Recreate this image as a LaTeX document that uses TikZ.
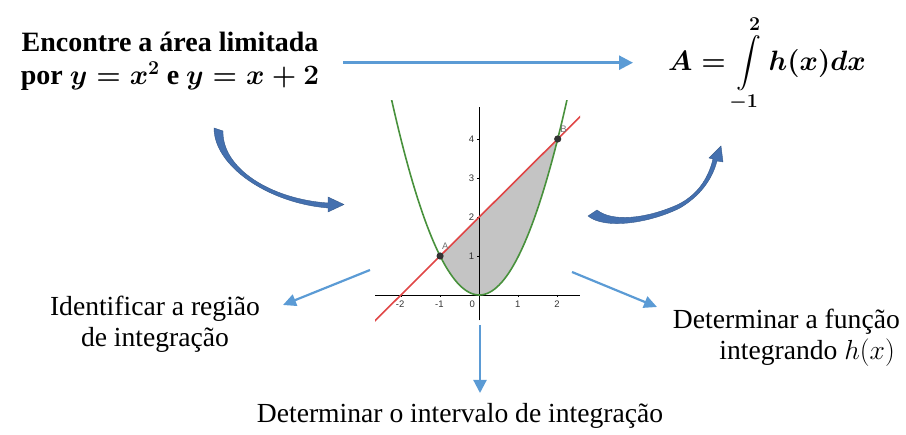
\documentclass[tikz,border=0pt]{standalone}
\usepackage{fix-cm}
\usepackage{exscale}
\usepackage{fontspec}
\setmainfont{Liberation Serif}
\setsansfont{Liberation Sans}
\usetikzlibrary{arrows.meta}
\definecolor{arrblue}{RGB}{91,155,213}
\definecolor{curvblue}{RGB}{68,112,175}
\definecolor{ggreen}{RGB}{72,145,60}
\definecolor{gred}{RGB}{224,70,70}
\definecolor{gshade}{RGB}{196,196,196}
\definecolor{gpoint}{RGB}{50,50,50}
\tikzset{
  arr/.style={draw=arrblue, line width=2.6pt, -{Triangle[length=14pt,width=14pt]}},
  curv/.style={fill=curvblue, draw=curvblue!80!black, line width=0.4pt},
  bigtxt/.style={font=\fontsize{27.6}{31}\selectfont, inner sep=0pt},
  titletxt/.style={font=\fontsize{28}{33}\selectfont\bfseries\boldmath, inner sep=0pt, align=center},
  ticklab/.style={font=\sffamily\fontsize{9.5}{11}\selectfont, text=black!80, inner sep=0pt},
  ptlab/.style={font=\sffamily\fontsize{9.5}{11}\selectfont, text=black!55, inner sep=0pt},
  axis/.style={draw=black, line width=0.8pt},
}
\begin{document}
\begin{tikzpicture}[x=1pt,y=-1pt]
\useasboundingbox (0,0) rectangle (906,435);

% texts
\node[titletxt] (title) at (170,61) {Encontre a área limitada\\por $y = x^2$ e $y = x + 2$};
\node[titletxt, font=\fontsize{28}{33}\selectfont\boldmath] (formula) at (767,64) {$\displaystyle A = \int\limits_{-1}^{2} h(x)dx$};
\node[bigtxt, align=center] (lreg) at (155,324) {Identificar a região\\de integração};
\node[bigtxt, align=right, anchor=east] (lfun) at (900,338) {Determinar a função\\integrando $h(x)$\hspace*{5pt}};
\node[bigtxt, anchor=base] (lint) at (460,423) {Determinar o intervalo de integração};

% top arrow
\coordinate (t1) at (343,62.7);
\coordinate (t2) at (633,62.7);
\draw[arr] (t1) -- (t2);

% graph
\begin{scope}[shift={(479.3,295)}, x=39.2pt, y=39pt]
  \coordinate (O) at (0,0);
  \begin{scope}
    \clip (-2.66,-0.72) rectangle (2.57,4.98);
    \fill[gshade] (-1,1) -- (2,4) -- plot[domain=2:-1, samples=60] (\x,{\x*\x}) -- cycle;
  \end{scope}
  \draw[axis] (-2.66,0) -- (2.57,0);
  \draw[axis] (0,-0.65) -- (0,4.82);
  \foreach \t in {-2,-1,1,2} \draw[black, line width=0.6pt] (\t,0) -- (\t,-0.06);
  \foreach \t in {1,2,3,4} \draw[black, line width=0.6pt] (0,\t) -- (-0.06,\t);
  \foreach \t in {-2,-1,1,2} \node[ticklab] (tx\t) at (\t-0.02,-0.24) {\t};
  \node[ticklab] (tx0) at (-0.18,-0.24) {0};
  \foreach \t in {1,2,3,4} \node[ticklab] (ty\t) at (-0.2,\t) {\t};
  \begin{scope}
    \clip (-2.66,-0.72) rectangle (2.57,4.98);
    \draw[ggreen, line width=1.6pt] plot[domain=-2.35:2.35, samples=80] (\x,{\x*\x});
    \draw[gred, line width=1.6pt] (-2.8,-0.8) -- (2.7,4.7);
  \end{scope}
  \fill[gpoint] (-1,1) circle[radius=3.6pt];
  \fill[gpoint] (2,4) circle[radius=3.6pt];
  \node[ptlab] (pA) at (-0.87,1.24) {A};
  \node[ptlab] (pB) at (2.15,4.26) {B};
\end{scope}

% straight arrows from graph to labels
\coordinate (s1) at (370,270);
\coordinate (e1) at (283,305);
\draw[arr, line width=2.2pt, -{Triangle[length=13pt,width=12pt]}] (s1) -- (e1);
\coordinate (s2) at (572,272);
\coordinate (e2) at (657,307);
\draw[arr, line width=2.2pt, -{Triangle[length=13pt,width=12pt]}] (s2) -- (e2);
\coordinate (s3) at (480,325);
\coordinate (e3) at (480,393);
\draw[arr, line width=2.2pt, -{Triangle[length=13pt,width=13pt]}] (s3) -- (e3);

% curved arrows
\fill[curv] (214,128) .. controls (214,166) and (268,203) .. (328,208)
  -- (328,212) -- (344,204.5) -- (328,197) -- (328,203)
  .. controls (270,199) and (222,168) .. (223,131) -- cycle;
\fill[curv] (588,216) .. controls (605,230) and (650,223) .. (680,208)
  .. controls (700,196) and (712,180) .. (717,161)
  -- (723,162) -- (721,146) -- (709,158) -- (713,159)
  .. controls (708,180) and (696,196) .. (677,205)
  .. controls (645,219) and (612,222) .. (597,210) -- cycle;
\end{tikzpicture}
\end{document}
